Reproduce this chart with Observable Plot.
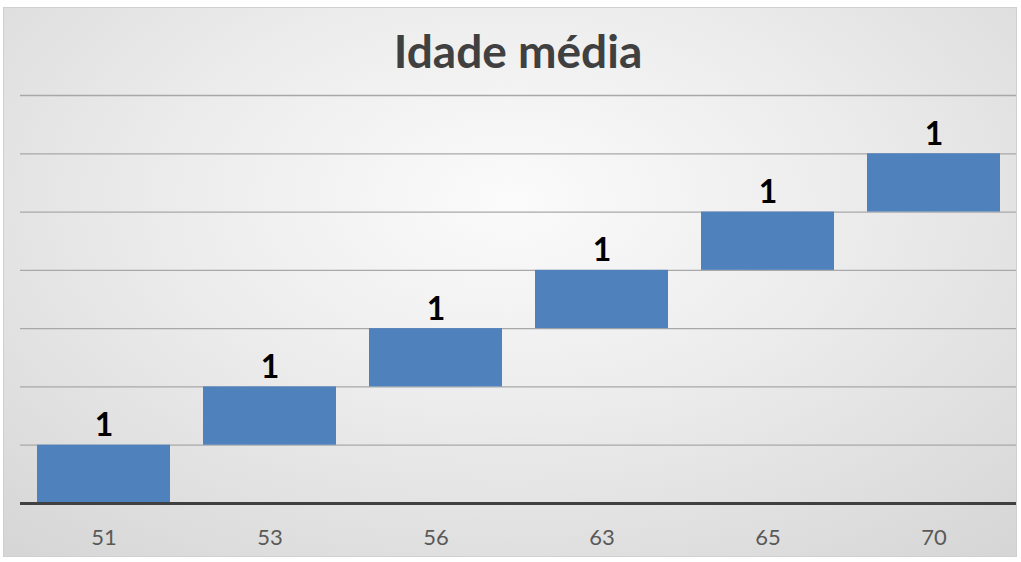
<!DOCTYPE html>
<html>
<head>
<meta charset="utf-8">
<script src="https://cdn.jsdelivr.net/npm/d3@7"></script>
<script src="https://cdn.jsdelivr.net/npm/@observablehq/plot@0.6"></script>
<style>
  html, body { margin: 0; padding: 0; background: #ffffff; }
  #page { position: relative; width: 1021px; height: 562px; overflow: hidden; font-family: Lato, "Open Sans", sans-serif; }
  #bg { position: absolute; left: 3px; top: 7px; width: 1012px; height: 548px; border: 1px solid #d0d0d0;
        background: radial-gradient(ellipse 75% 85% at 50% 35%, #fbfbfb 0%, #ececec 45%, #d6d6d6 100%); }
  #content { position: absolute; left: 0; top: 0; width: 1021px; }
  #title { height: 85px; box-sizing: border-box; padding-top: 26px; text-align: center; font-size: 46px; line-height: 50px;
           font-weight: bold; color: #404040; padding-left: 15px; }
  svg { display: block; background: transparent; }
</style>
</head>
<body>
<div id="page">
  <div id="bg"></div>
  <div id="content">
    <div id="title">Idade média</div>
    <div id="chart"></div>
  </div>
</div>
<script>
const categories = ["51", "53", "56", "63", "65", "70"];
const offsets = [0, 1, 2, 3, 4, 5];
const values = [1, 1, 1, 1, 1, 1];
const gridTicks = [1, 2, 3, 4, 5, 6, 7];

const data = categories.map((c, i) => ({cat: c, start: offsets[i], end: offsets[i] + values[i], value: values[i]}));

const chart = Plot.plot({
  width: 1021,
  height: 477,
  marginLeft: 20,
  marginRight: 5,
  marginTop: 10,
  marginBottom: 59,
  style: {background: "transparent", fontFamily: "Lato, 'Open Sans', sans-serif"},
  x: {domain: categories, paddingInner: 0.2, paddingOuter: 0.1, label: null},
  y: {domain: [0, 7], label: null},
  marks: [
    Plot.ruleY(gridTicks, {stroke: "#a8a8a8", strokeWidth: 1.3}),
    Plot.barY(data, {x: "cat", y1: "start", y2: "end", fill: "#4f81bd"}),
    Plot.text(data, {x: "cat", y: "end", text: d => String(d.value), lineAnchor: "bottom", dy: -9,
                     fontSize: 32, fontWeight: "bold", fill: "#000000"}),
    Plot.ruleY([0], {stroke: "#404040", strokeWidth: 3}),
    Plot.axisX({tickSize: 0, tickPadding: 26, fontSize: 22, fill: "#595959", label: null}),
    Plot.axisY({ticks: [], tickSize: 0, label: null})
  ]
});
document.getElementById("chart").appendChild(chart);
</script>
</body>
</html>
